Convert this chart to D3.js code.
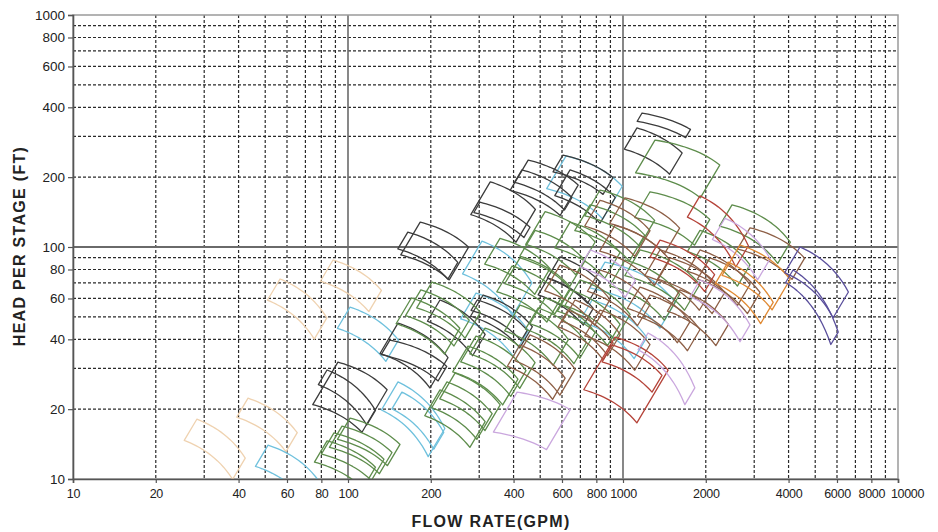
<!DOCTYPE html>
<html>
<head>
<meta charset="utf-8">
<script src="https://cdnjs.cloudflare.com/ajax/libs/d3/7.8.5/d3.min.js"></script>
<style>
  body { margin: 0; background: #fff; }
  text { font-family: "Liberation Sans", Arial, sans-serif; }
</style>
</head>
<body>
<div id="chart"></div>
<script>

var xTicks = [10, 20, 40, 60, 80, 100, 200, 400, 600, 800, 1000, 2000, 4000, 6000, 8000, 10000];
var yTicks = [10, 20, 40, 60, 80, 100, 200, 400, 600, 800, 1000];

// each tile: [flow at top-left (gpm), head at top-left (ft), flow span of top curve, head ratio across top, trim ratio]
var beigeTiles = [
  [28.2, 18.1, 1.50, 0.68, 0.90],
  [43.3, 22.3, 1.51, 0.71, 0.91],
  [56.6, 72.8, 1.48, 0.68, 0.90],
  [88.2, 87.9, 1.50, 0.74, 0.90]
];

var blueTiles = [
  [51.2, 14.0, 1.57, 0.67, 0.90],
  [101.7, 55.1, 1.50, 0.72, 0.90],
  [152, 26.2, 1.48, 0.63, 0.87],
  [157, 23.7, 1.42, 0.67, 0.92],
  [307, 106, 1.52, 0.66, 0.85],
  [292, 63.3, 1.55, 0.69, 0.88],
  [621, 247, 1.60, 0.74, 0.85],
  [860, 86.1, 1.80, 0.67, 0.88],
  [772, 59.1, 1.58, 0.69, 0.90]
];

var blackTiles = [
  [91.9, 31.9, 1.51, 0.76, 0.81],
  [83.9, 29.5, 1.50, 0.67, 0.93],
  [152, 47.0, 1.52, 0.71, 0.86],
  [142, 39.7, 1.61, 0.77, 0.93],
  [183, 128, 1.50, 0.78, 0.85],
  [165, 116, 1.52, 0.74, 0.92],
  [329, 191, 1.46, 0.76, 0.85],
  [302, 156, 1.52, 0.78, 0.95],
  [452, 237, 1.52, 0.78, 0.86],
  [429, 215, 1.52, 0.76, 0.94],
  [605, 249, 1.52, 0.80, 0.92],
  [642, 215, 1.46, 0.76, 0.88],
  [1173, 378, 1.50, 0.85, 0.96],
  [1124, 326, 1.46, 0.78, 0.90],
  [310, 62.1, 1.51, 0.73, 0.90],
  [295, 59.1, 1.52, 0.74, 0.95],
  [590, 90.6, 1.40, 0.78, 0.90],
  [534, 73.5, 1.46, 0.74, 0.92],
  [216, 59.1, 1.46, 0.71, 0.90]
];

var greenTiles = [
  [101.7, 18.3, 1.52, 0.77, 0.90],
  [95.1, 16.9, 1.52, 0.77, 0.90],
  [88.9, 15.8, 1.52, 0.77, 0.90],
  [83.9, 14.6, 1.50, 0.77, 0.90],
  [245, 28.6, 1.46, 0.73, 0.88],
  [229, 26.2, 1.46, 0.73, 0.88],
  [216, 24.2, 1.46, 0.73, 0.88],
  [202, 70.6, 1.50, 0.74, 0.88],
  [184, 65.3, 1.50, 0.74, 0.88],
  [170, 60.3, 1.50, 0.74, 0.88],
  [315, 44.7, 1.52, 0.71, 0.88],
  [292, 41.3, 1.52, 0.71, 0.88],
  [273, 37.4, 1.52, 0.72, 0.88],
  [422, 89.7, 1.52, 0.74, 0.88],
  [395, 82.8, 1.52, 0.74, 0.88],
  [521, 142, 1.52, 0.74, 0.85],
  [479, 118, 1.52, 0.74, 0.88],
  [521, 60.3, 1.52, 0.71, 0.88],
  [491, 54.6, 1.50, 0.71, 0.90],
  [825, 176, 1.58, 0.74, 0.88],
  [759, 152, 1.58, 0.74, 0.88],
  [1307, 289, 1.72, 0.78, 0.85],
  [1254, 173, 1.65, 0.76, 0.88],
  [2491, 152, 1.63, 0.69, 0.90],
  [1153, 97.1, 1.65, 0.71, 0.88],
  [1017, 87.9, 1.58, 0.71, 0.88],
  [1905, 118, 1.52, 0.71, 0.90],
  [642, 128, 1.52, 0.74, 0.88],
  [357, 109, 1.52, 0.74, 0.88],
  [422, 56.2, 1.50, 0.71, 0.88],
  [698, 72.1, 1.52, 0.71, 0.88],
  [642, 65.3, 1.52, 0.71, 0.90]
];

var brownTiles = [
  [459, 41.8, 1.46, 0.71, 0.88],
  [422, 37.8, 1.46, 0.72, 0.90],
  [669, 59.1, 1.46, 0.71, 0.90],
  [631, 53.5, 1.46, 0.72, 0.92],
  [825, 53.5, 1.52, 0.71, 0.88],
  [1153, 67.2, 1.52, 0.71, 0.90],
  [1254, 62.1, 1.52, 0.71, 0.90],
  [1612, 65.3, 1.50, 0.71, 0.90],
  [825, 159, 1.52, 0.74, 0.88],
  [935, 124, 1.58, 0.71, 0.88],
  [1017, 163, 1.58, 0.74, 0.88],
  [1363, 97.1, 1.58, 0.71, 0.88],
  [1483, 89.7, 1.58, 0.71, 0.90],
  [1905, 97.1, 1.52, 0.71, 0.90],
  [2072, 89.7, 1.52, 0.71, 0.90],
  [2896, 121, 1.58, 0.74, 0.90],
  [590, 83.6, 1.52, 0.71, 0.88],
  [825, 79.6, 1.52, 0.71, 0.90]
];

var redTiles = [
  [935, 40.9, 1.56, 0.72, 0.77],
  [912, 37.8, 1.52, 0.74, 0.92],
  [1905, 166, 1.50, 0.61, 0.90],
  [1363, 107, 1.58, 0.71, 0.92]
];

var lavenderTiles = [
  [412, 23.7, 1.56, 0.84, 0.82],
  [1233, 42.6, 1.48, 0.58, 0.92],
  [2349, 133, 1.46, 0.67, 0.90],
  [1905, 72.1, 1.52, 0.64, 0.92],
  [759, 97.1, 1.46, 0.74, 0.92]
];

var orangeTiles = [
  [2665, 102, 1.52, 0.71, 0.86],
  [2409, 86.1, 1.46, 0.67, 0.90]
];

var purpleTiles = [
  [4401, 100, 1.50, 0.64, 0.88],
  [4152, 79.6, 1.46, 0.54, 0.94]
];

var families = [
  { color: "#efd2b0", tiles: beigeTiles },
  { color: "#6fc1dd", tiles: blueTiles },
  { color: "#3c3c3c", tiles: blackTiles },
  { color: "#5e8d4c", tiles: greenTiles },
  { color: "#8d5f46", tiles: brownTiles },
  { color: "#b5443a", tiles: redTiles },
  { color: "#caa7de", tiles: lavenderTiles },
  { color: "#e08a34", tiles: orangeTiles },
  { color: "#5a4f9c", tiles: purpleTiles }
];

var width = 938, height = 532,
    margin = { left: 73, right: 40, top: 15, bottom: 53 },
    plotW = width - margin.left - margin.right,
    plotH = height - margin.top - margin.bottom;

var svg = d3.select("#chart").append("svg")
  .attr("width", width).attr("height", height);

var x = d3.scaleLog().domain([10, 10000]).range([0, plotW]);
var y = d3.scaleLog().domain([10, 1000]).range([plotH, 0]);

var g = svg.append("g").attr("transform", "translate(" + margin.left + "," + margin.top + ")");

// minor grid values 2..9 in each decade
var xMinor = [], yMinor = [];
[10, 100, 1000].forEach(function (dec) { for (var k = 2; k <= 9; k++) xMinor.push(dec * k); });
[10, 100].forEach(function (dec) { for (var k = 2; k <= 9; k++) yMinor.push(dec * k); });

g.selectAll(".vgrid").data(xMinor).enter().append("line")
  .attr("x1", function (d) { return x(d); }).attr("x2", function (d) { return x(d); })
  .attr("y1", 0).attr("y2", plotH)
  .style("stroke", "#2a2a2a").style("stroke-width", 1.2).style("stroke-dasharray", "3,2");

g.selectAll(".hgrid").data(yMinor).enter().append("line")
  .attr("x1", 0).attr("x2", plotW)
  .attr("y1", function (d) { return y(d); }).attr("y2", function (d) { return y(d); })
  .style("stroke", "#2a2a2a").style("stroke-width", 1.2).style("stroke-dasharray", "3,2");

// decade lines
g.selectAll(".vmajor").data([100, 1000]).enter().append("line")
  .attr("x1", function (d) { return x(d); }).attr("x2", function (d) { return x(d); })
  .attr("y1", 0).attr("y2", plotH)
  .style("stroke", "#6a6a6a").style("stroke-width", 1.6);

g.append("line")
  .attr("x1", 0).attr("x2", plotW).attr("y1", y(100)).attr("y2", y(100))
  .style("stroke", "#6a6a6a").style("stroke-width", 2);

// frame
g.append("rect").attr("x", 0).attr("y", 0).attr("width", plotW).attr("height", plotH)
  .style("fill", "none").style("stroke", "#9a9a9a").style("stroke-width", 1.5);

// tiles
g.append("clipPath").attr("id", "plotclip")
  .append("rect").attr("width", plotW).attr("height", plotH);

var line = d3.line().x(function (p) { return x(p[0]); }).y(function (p) { return y(p[1]); });

var curveExp = 2.5;

function tilePath(t) {
  var q1 = t[0], h1 = t[1], q2 = q1 * t[2], h2 = h1 * t[3], trim = t[4];
  // head curve H = A - B Q^n through both top corners
  var B = (h1 - h2) / (Math.pow(q2, curveExp) - Math.pow(q1, curveExp)),
      A = h1 + B * Math.pow(q1, curveExp);
  var top = d3.range(0, 17).map(function (i) {
    var q = q1 * Math.pow(q2 / q1, i / 16);
    return [q, A - B * Math.pow(q, curveExp)];
  });
  // trimmed impeller: affinity laws
  var bottom = top.map(function (p) { return [p[0] * trim, p[1] * trim * trim]; }).reverse();
  return line(top.concat(bottom)) + "Z";
}

var tileLayer = g.append("g").attr("clip-path", "url(#plotclip)");

families.forEach(function (fam) {
  tileLayer.append("g").selectAll("path").data(fam.tiles).enter().append("path")
    .attr("d", tilePath)
    .style("fill", "none")
    .style("stroke", fam.color)
    .style("stroke-width", 1.3)
    .style("stroke-linejoin", "round");
});

// axes
var xAxis = d3.axisBottom(x).tickValues(xTicks).tickFormat(d3.format("d")).tickSize(4).tickPadding(6);
var yAxis = d3.axisLeft(y).tickValues(yTicks).tickFormat(d3.format("d")).tickSize(5).tickPadding(3);

var gx = g.append("g").attr("transform", "translate(0," + plotH + ")").call(xAxis);
var gy = g.append("g").call(yAxis);

[gx, gy].forEach(function (ax) {
  ax.select(".domain").style("stroke", "#555").style("stroke-width", 1.6);
  ax.selectAll(".tick line").style("stroke", "#555").style("stroke-width", 1.2);
  ax.selectAll(".tick text")
    .style("font-family", "'Liberation Sans', Arial, sans-serif")
    .style("fill", "#222");
});
gy.selectAll(".tick text").style("font-size", "13.5px");
gx.selectAll(".tick text").style("font-size", "12.5px").style("letter-spacing", "-0.3px");
// last label sits just right of its tick so it clears 8000
gx.selectAll(".tick text").filter(function (d) { return d === 10000; }).attr("dx", "9px");

// titles
svg.append("text")
  .attr("x", 491).attr("y", 527)
  .attr("text-anchor", "middle")
  .style("font-size", "16px").style("font-weight", "bold")
  .style("letter-spacing", "1.3px").style("fill", "#222")
  .text("FLOW RATE(GPM)");

svg.append("text")
  .attr("transform", "translate(25,246) rotate(-90)")
  .attr("text-anchor", "middle")
  .style("font-size", "16px").style("font-weight", "bold")
  .style("letter-spacing", "1.3px").style("fill", "#222")
  .text("HEAD PER STAGE (FT)");

</script>
</body>
</html>
